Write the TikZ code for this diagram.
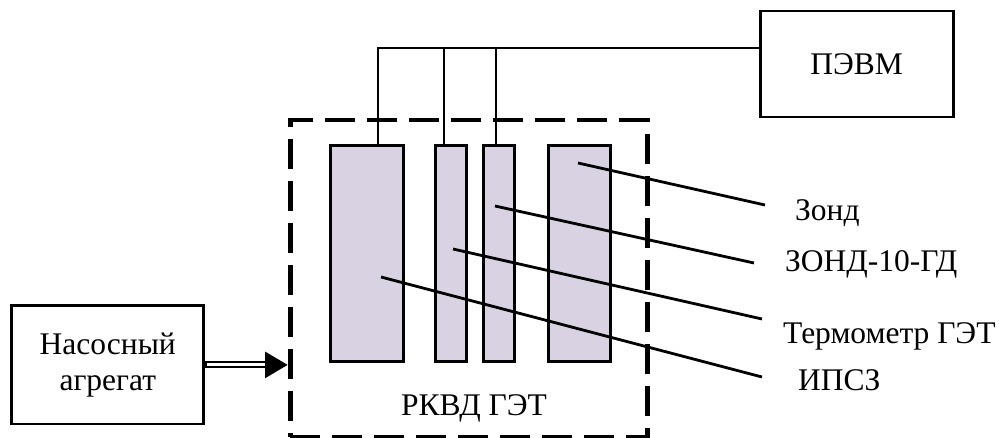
\documentclass[tikz,border=0pt]{standalone}
\usepackage{fontspec}
\setmainfont{Liberation Serif}
\usetikzlibrary{arrows.meta,calc}
\definecolor{rkfill}{RGB}{216,210,227}
\begin{document}
\begin{tikzpicture}[x=1pt,y=-1pt,
  every node/.style={font=\fontsize{31.5}{36.3}\selectfont},
  blockbox/.style={draw, line width=2.8pt, inner sep=0pt, align=center},
  sensor/.style={draw, line width=3.2pt, fill=rkfill, inner sep=0pt, anchor=north west, minimum height=216pt},
  wire/.style={line width=2.4pt},
  leader/.style={line width=2.8pt},
  lbl/.style={anchor=base west, inner sep=0pt},
  dashbox/.style={draw, line width=4.5pt, dash pattern=on 30pt off 12pt, inner sep=0pt, anchor=north west}
]
\path[use as bounding box] (0,0) rectangle (999,438);

% blocks
\node[blockbox, minimum width=193pt, minimum height=106pt] (pevm) at (856.7,64) {ПЭВМ};
\node[blockbox, minimum width=192pt, minimum height=118pt] (pump) at (107.8,364.9) {Насосный\\агрегат};

% dashed enclosure
\node[dashbox, minimum width=357pt, minimum height=317pt] (rkvd) at (288,118) {};
\node[anchor=base, inner sep=0pt] (rkvdlbl) at (474,415) {РКВД ГЭТ};

% sensors
\node[sensor, minimum width=73pt] (r1) at (329,144) {};
\node[sensor, minimum width=31pt] (r2) at (434,144) {};
\node[sensor, minimum width=31pt] (r3) at (482,144) {};
\node[sensor, minimum width=62pt] (r4) at (547,144) {};

% bus to PC
\coordinate (bus) at (378,48);
\coordinate (t2) at (444,48);
\coordinate (t3) at (496,48);
\draw[wire] (r1.north -| bus) -- (bus) -- (bus -| pevm.west);
\draw[wire] (t2) -- (t2 |- r2.north);
\draw[wire] (t3) -- (t3 |- r3.north);

% leaders
\coordinate (s1) at (578,163);
\coordinate (s2) at (495,206);
\coordinate (s3) at (453,249);
\coordinate (s4) at (381,277);
\coordinate (e1) at (765,205);
\coordinate (e2) at (754,263);
\coordinate (e3) at (762,319);
\coordinate (e4) at (762,377);
\draw[leader] (s1) -- (e1);
\draw[leader] (s2) -- (e2);
\draw[leader] (s3) -- (e3);
\draw[leader] (s4) -- (e4);
\node[lbl] (l1) at (795,220.7) {Зонд};
\node[lbl] (l2) at (785,271.7) {ЗОНД-10-ГД};
\node[lbl] (l3) at (783,343.3) {Термометр ГЭТ};
\node[lbl] (l4) at (798,390) {ИПСЗ};

% double arrow from pump
\coordinate (tip) at (rkvd.west |- pump.east);
\draw[line width=7pt, -{Triangle[length=23pt,width=25pt]}] (pump.east) -- (tip);
\draw[white, line width=3pt, shorten >=23pt, shorten <=1.5pt] (pump.east) -- (tip);
\end{tikzpicture}
\end{document}
